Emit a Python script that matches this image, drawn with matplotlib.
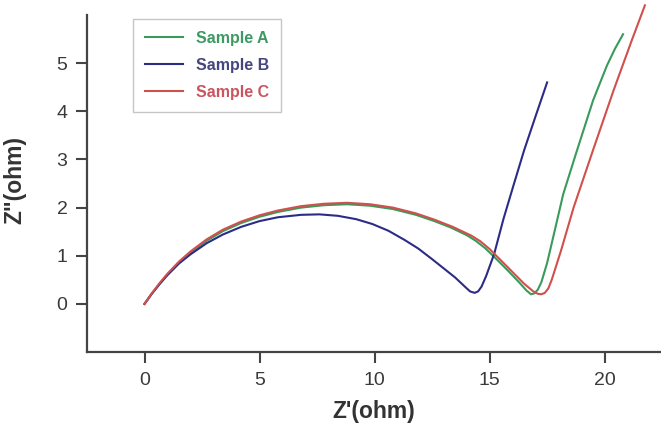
import matplotlib
matplotlib.use("Agg")
import matplotlib.pyplot as plt

plt.rcParams['font.family'] = ['Liberation Sans', 'DejaVu Sans']

# Nyquist data: Z' (real part, ohm) and Z'' (imaginary part, ohm)
zre_a = [0.0, 0.3, 0.65, 1.0, 1.5, 2.0, 2.7, 3.4, 4.2, 5.0, 5.8, 6.8, 7.8, 8.8,
         9.8, 10.8, 11.8, 12.6, 13.3, 14.0, 14.4, 14.8, 15.3, 15.8, 16.3, 16.6,
         16.8, 16.95, 17.1, 17.25, 17.5, 17.8, 18.2, 18.8, 19.5, 20.1, 20.45, 20.8]
zim_a = [0.0, 0.2, 0.41, 0.61, 0.85, 1.06, 1.31, 1.51, 1.68, 1.81, 1.91, 2.0, 2.05, 2.07,
         2.04, 1.97, 1.85, 1.72, 1.59, 1.43, 1.31, 1.16, 0.93, 0.69, 0.44, 0.28,
         0.2, 0.22, 0.3, 0.45, 0.85, 1.46, 2.28, 3.19, 4.23, 4.95, 5.3, 5.6]

zre_b = [0.0, 0.3, 0.65, 1.0, 1.5, 2.0, 2.7, 3.4, 4.2, 5.0, 5.8, 6.8, 7.6, 8.4,
         9.2, 9.9, 10.6, 11.3, 11.9, 12.5, 13.0, 13.5, 13.9, 14.15, 14.35, 14.5,
         14.65, 14.85, 15.2, 15.6, 16.05, 16.5, 17.0, 17.5]
zim_b = [0.0, 0.2, 0.41, 0.6, 0.84, 1.03, 1.26, 1.44, 1.60, 1.72, 1.80, 1.85, 1.86, 1.83,
         1.76, 1.66, 1.52, 1.33, 1.15, 0.93, 0.74, 0.55, 0.37, 0.26, 0.23, 0.26,
         0.36, 0.58, 1.04, 1.76, 2.48, 3.19, 3.90, 4.6]

zre_c = [0.0, 0.3, 0.65, 1.0, 1.5, 2.0, 2.7, 3.4, 4.2, 5.0, 5.8, 6.8, 7.8, 8.8,
         9.8, 10.8, 11.8, 12.6, 13.4, 14.2, 14.6, 15.0, 15.5, 16.0, 16.5, 16.9,
         17.1, 17.25, 17.4, 17.55, 17.7, 18.1, 18.65, 19.5, 20.4, 21.2, 21.75]
zim_c = [0.0, 0.21, 0.43, 0.63, 0.88, 1.09, 1.34, 1.54, 1.71, 1.84, 1.94, 2.03, 2.08, 2.10,
         2.07, 2.00, 1.88, 1.75, 1.60, 1.42, 1.30, 1.14, 0.90, 0.66, 0.42, 0.26,
         0.21, 0.2, 0.23, 0.32, 0.5, 1.10, 2.00, 3.20, 4.45, 5.50, 6.2]

labels = ["Sample A", "Sample B", "Sample C"]
colors = ["#3a9a5c", "#2c2c86", "#d0504c"]
text_colors = ["#3d9a62", "#45457f", "#c85560"]

x_ticks = [0, 5, 10, 15, 20]
y_ticks = [0, 1, 2, 3, 4, 5]

fig = plt.figure(figsize=(6.61, 4.32), dpi=100)
ax = fig.add_axes([0.1316, 0.185, 0.8684, 0.797])

series = [(zre_a, zim_a), (zre_b, zim_b), (zre_c, zim_c)]
for (xs, ys), lab, col in zip(series, labels, colors):
    ax.plot(xs, ys, color=col, lw=1.5, label=lab, clip_on=False,
            solid_joinstyle='round')

ax.set_xlim(-2.5, 22.45)
ax.set_ylim(-1, 6.15)
ax.set_xticks(x_ticks)
ax.set_yticks(y_ticks)

axis_col = "#444444"
for side in ["top", "right"]:
    ax.spines[side].set_visible(False)
for side in ["left", "bottom"]:
    ax.spines[side].set_color(axis_col)
    ax.spines[side].set_linewidth(1.6)
ax.spines["left"].set_bounds(-1, 6)

ax.tick_params(axis='both', direction='out', length=8, width=1.5,
               color=axis_col, labelcolor="#3a3a3a", labelsize=14, pad=6)

ax.set_xlabel("Z'(ohm)", fontsize=16.5, fontweight='bold', color="#333333",
              labelpad=8)
ax.set_ylabel('Z"(ohm)', fontsize=16.5, fontweight='bold', color="#333333",
              labelpad=22)

leg = ax.legend(loc='upper left', bbox_to_anchor=(0.201, 0.956),
                bbox_transform=fig.transFigure, frameon=True, fancybox=False,
                edgecolor="#b8b8b8",
                prop={'weight': 'bold', 'size': 11.5},
                handlelength=2.4, handletextpad=0.8, labelspacing=0.75,
                borderpad=0.75, borderaxespad=0)
leg.get_frame().set_linewidth(1.0)
for txt, tc in zip(leg.get_texts(), text_colors):
    txt.set_color(tc)

fig.savefig("out.png", dpi=100)
